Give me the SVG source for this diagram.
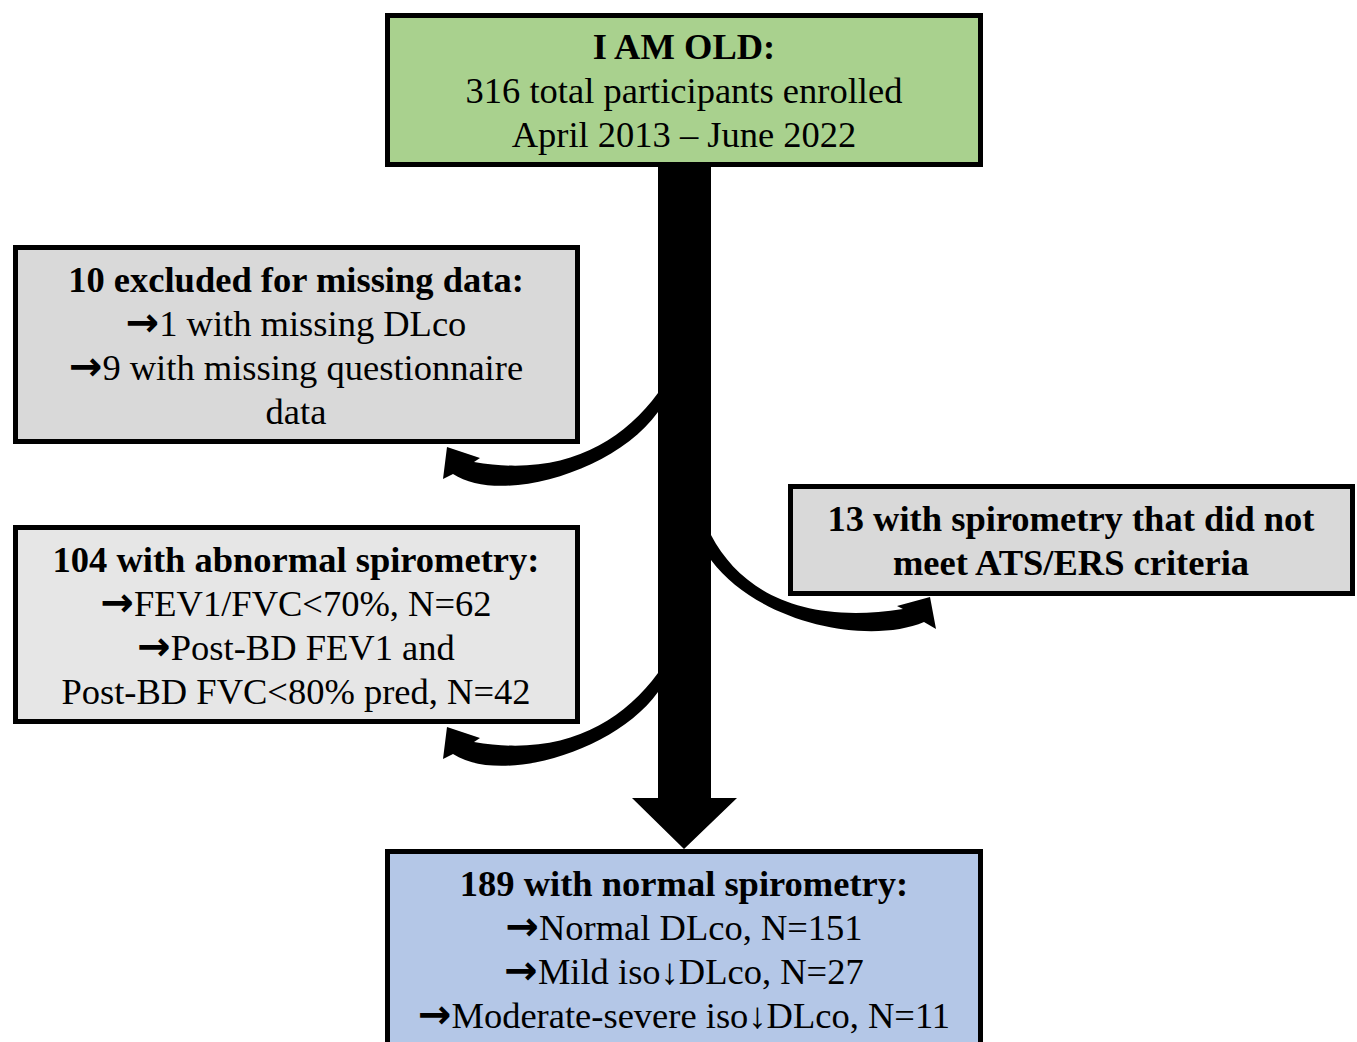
<svg xmlns="http://www.w3.org/2000/svg" width="1357" height="1042" viewBox="0 0 1357 1042">
<style>
.box{stroke:#000;stroke-width:5}
.t{font-family:"Liberation Serif","Times New Roman",serif;font-size:36.5px;fill:#000;text-anchor:middle}
.b{font-weight:bold}
.a{font-family:"DejaVu Sans",sans-serif;font-size:40px;font-weight:bold}
.arr{fill:#000}
</style>
<rect width="1357" height="1042" fill="#fff"/>
<g id="connectors">
<polygon class="arr" points="658,166 711,166 711,798 737,798 684,849 632,798 658,798"/>
<path class="arr" d="M658,393 C620,445 560,477 474,462 L480,458 L447,447 L443,479 L453,474 C500,505 615,472 658,412 Z"/>
<path class="arr" transform="translate(0,280)" d="M658,393 C620,445 560,477 474,462 L480,458 L447,447 L443,479 L453,474 C500,505 615,472 658,412 Z"/>
<path class="arr" d="M711,535 C740,590 800,625 903,609 L897,606 L930,597 L936,629 L924,622 C870,645 760,625 711,560 Z"/>
</g>
<g id="enrolled">
<rect class="box" x="387.5" y="15.5" width="593" height="149" fill="#a9d18e"/>
<text class="t b" x="684" y="59">I AM OLD:</text>
<text class="t" x="684" y="103">316 total participants enrolled</text>
<text class="t" x="684" y="147">April 2013 – June 2022</text>
</g>
<g id="missing">
<rect class="box" x="15.5" y="247.5" width="562" height="194" fill="#d9d9d9"/>
<text class="t b" x="296" y="292">10 excluded for missing data:</text>
<text class="t" x="296" y="336"><tspan class="a">→</tspan>1 with missing DLco</text>
<text class="t" x="296" y="380"><tspan class="a">→</tspan>9 with missing questionnaire</text>
<text class="t" x="296" y="424">data</text>
</g>
<g id="abnormal">
<rect class="box" x="15.5" y="527.5" width="562" height="194" fill="#e6e6e6"/>
<text class="t b" x="296" y="572">104 with abnormal spirometry:</text>
<text class="t" x="296" y="616"><tspan class="a">→</tspan>FEV1/FVC&lt;70%, N=62</text>
<text class="t" x="296" y="660"><tspan class="a">→</tspan>Post-BD FEV1 and</text>
<text class="t" x="296" y="704">Post-BD FVC&lt;80% pred, N=42</text>
</g>
<g id="ats">
<rect class="box" x="790.5" y="486.5" width="562" height="107" fill="#d9d9d9"/>
<text class="t b" x="1071" y="531">13 with spirometry that did not</text>
<text class="t b" x="1071" y="575">meet ATS/ERS criteria</text>
</g>
<g id="normal">
<rect class="box" x="387.5" y="851.5" width="593" height="200" fill="#b4c7e7"/>
<text class="t b" x="684" y="896">189 with normal spirometry:</text>
<text class="t" x="684" y="940"><tspan class="a">→</tspan>Normal DLco, N=151</text>
<text class="t" x="684" y="984"><tspan class="a">→</tspan>Mild iso↓DLco, N=27</text>
<text class="t" x="684" y="1028"><tspan class="a">→</tspan>Moderate-severe iso↓DLco, N=11</text>
</g>
</svg>
